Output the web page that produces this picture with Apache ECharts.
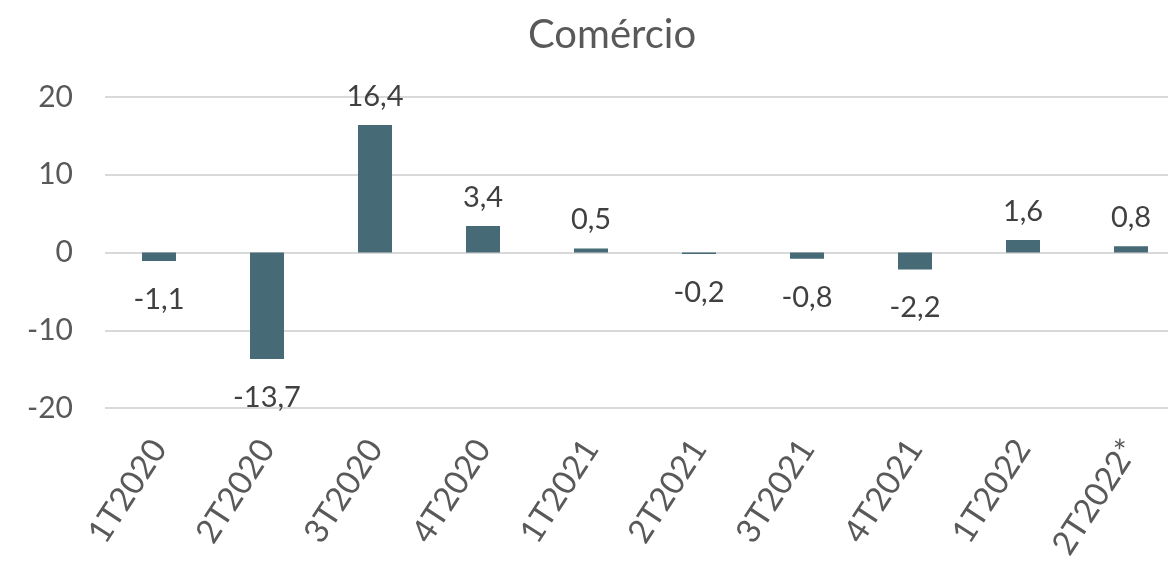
<!DOCTYPE html>
<html><head><meta charset="utf-8">
<script src="https://cdn.jsdelivr.net/npm/echarts@6/dist/echarts.min.js"></script>
<style>html,body{margin:0;padding:0;background:#fff}#c{width:1168px;height:561px}</style>
</head><body><div id="c"></div>
<script>
const categories = ['1T2020','2T2020','3T2020','4T2020','1T2021','2T2021','3T2021','4T2021','1T2022','2T2022*'];
const values = [-1.1, -13.7, 16.4, 3.4, 0.5, -0.2, -0.8, -2.2, 1.6, 0.8];
const yTicks = [-20, -10, 0, 10, 20];
const FONT = 'Lato';
const chart = echarts.init(document.getElementById('c'));
chart.setOption({
  animation: false,
  title: { text: 'Comércio', left: 523, top: 10, textStyle: { fontFamily: FONT, fontSize: 40, fontWeight: 'normal', color: '#595959' } },
  grid: { left: 105, width: 1080, top: 97, height: 311, containLabel: false, outerBoundsMode: 'none' },
  xAxis: {
    type: 'category', data: categories,
    axisLine: { show: false }, axisTick: { show: false },
    axisLabel: { rotate: 57, fontFamily: FONT, fontSize: 33, color: '#595959', margin: 35, interval: 0 }
  },
  yAxis: {
    type: 'value', min: yTicks[0], max: yTicks[yTicks.length-1], interval: 10,
    axisLine: { show: false }, axisTick: { show: false },
    splitLine: { lineStyle: { color: '#d9d9d9', width: 2 } },
    axisLabel: { fontFamily: FONT, fontSize: 30, color: '#595959', margin: 32 }
  },
  series: [{
    type: 'bar', barWidth: 34,
    data: values.map(v => ({
      value: v,
      label: { show: true, position: v >= 0 ? 'top' : 'bottom', distance: v >= 0 ? 14 : 24,
        fontFamily: FONT, fontSize: 29, color: '#404040',
        formatter: p => String(p.value).replace('.', ',') }
    })),
    itemStyle: { color: '#466A76' }
  }]
});
</script></body></html>
